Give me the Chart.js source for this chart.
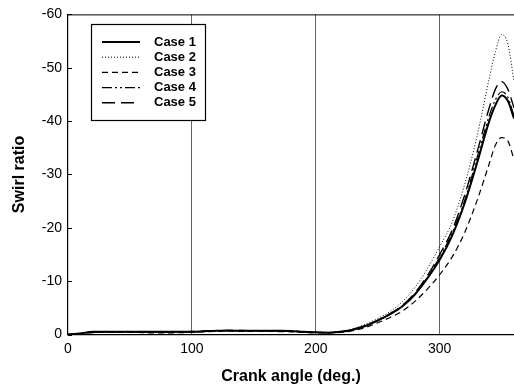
<!DOCTYPE html>
<html><head><meta charset="utf-8">
<script src="https://cdn.jsdelivr.net/npm/chart.js@4/dist/chart.umd.min.js"></script>
<style>html,body{margin:0;padding:0;background:#fff;}#wrap{width:514px;height:389px;}</style>
</head><body><div id="wrap"><canvas id="c" width="514" height="389"></canvas></div>
<script>
const angles = [0,10,20,30,40,50,60,70,80,90,100,110,120,130,140,150,160,170,180,190,200,210,220,230,240,250,260,270,280,290,300,310,320,330,340,345,350,355,360];
const case1 = [0,-0.2,-0.5,-0.5,-0.5,-0.5,-0.5,-0.5,-0.5,-0.5,-0.5,-0.6,-0.7,-0.75,-0.7,-0.7,-0.7,-0.7,-0.65,-0.5,-0.4,-0.35,-0.5,-0.9,-1.6,-2.6,-3.8,-5.3,-7.5,-10.5,-14,-18.5,-24.5,-32,-40,-43,-44.8,-43.8,-40.5];
const case2 = [0,-0.2,-0.4,-0.45,-0.45,-0.45,-0.4,-0.4,-0.35,-0.4,-0.45,-0.55,-0.65,-0.7,-0.7,-0.7,-0.65,-0.65,-0.6,-0.5,-0.4,-0.4,-0.6,-1.1,-1.9,-3,-4.3,-6.2,-8.8,-12.3,-16.5,-21,-28,-37,-48,-53,-56.2,-54.5,-47.5];
const case3 = [0,-0.15,-0.35,-0.4,-0.4,-0.4,-0.35,-0.3,-0.3,-0.35,-0.4,-0.5,-0.6,-0.65,-0.6,-0.6,-0.6,-0.55,-0.5,-0.4,-0.3,-0.3,-0.4,-0.7,-1.3,-2.2,-3.2,-4.4,-6.2,-8.5,-11.2,-14.5,-19,-25,-32,-35.5,-36.9,-36.3,-32.8];
const case4 = [0,-0.2,-0.45,-0.5,-0.5,-0.5,-0.45,-0.45,-0.45,-0.45,-0.5,-0.6,-0.7,-0.7,-0.7,-0.7,-0.7,-0.65,-0.6,-0.5,-0.4,-0.35,-0.5,-0.9,-1.6,-2.6,-3.8,-5.4,-7.6,-10.7,-14.5,-19,-25,-33,-41,-44,-45.5,-44.5,-41];
const case5 = [0,-0.2,-0.45,-0.5,-0.5,-0.5,-0.5,-0.5,-0.5,-0.5,-0.55,-0.65,-0.7,-0.75,-0.75,-0.7,-0.7,-0.7,-0.65,-0.5,-0.4,-0.35,-0.5,-0.95,-1.7,-2.7,-3.9,-5.5,-7.8,-11,-15,-19.5,-26,-34,-42.5,-46,-47.4,-46,-42.5];
const seriesNames = ["Case 1","Case 2","Case 3","Case 4","Case 5"];
const xTicks = [0,100,200,300];
const yTicks = [0,-10,-20,-30,-40,-50,-60];

const styles = [
  {w:2.0, dash:[]},
  {w:1.0, dash:[1,2]},
  {w:1.2, dash:[6,4]},
  {w:1.2, dash:[10,3,2,3,2,3]},
  {w:1.4, dash:[13,6]}
];
const allSeries = [case1,case2,case3,case4,case5];
const datasets = allSeries.map((s,i)=>({
  label: seriesNames[i],
  data: angles.map((a,j)=>({x:a,y:s[j]})),
  borderColor:'#000', borderWidth:styles[i].w, borderDash:styles[i].dash,
  pointRadius:0, fill:false, cubicInterpolationMode:'monotone'
}));

const framePlugin = {
  id:'frame',
  afterDraw(chart){
    const ctx = chart.ctx, a = chart.chartArea;
    const ys = chart.scales.y;
    ctx.save();
    ctx.strokeStyle='#000'; ctx.lineWidth=1; ctx.setLineDash([]);
    ctx.beginPath(); ctx.moveTo(a.left, a.top+0.5); ctx.lineTo(a.right, a.top+0.5); ctx.stroke();
    yTicks.forEach(v=>{
      const p = Math.round(ys.getPixelForValue(v))+0.5;
      ctx.beginPath(); ctx.moveTo(a.left, p); ctx.lineTo(a.left+4, p); ctx.stroke();
    });
    const lx=91, ly=24, lw=114, lh=96;
    ctx.fillStyle='#fff'; ctx.fillRect(lx,ly,lw,lh);
    ctx.lineWidth=1.2; ctx.strokeRect(lx+0.5,ly+0.5,lw,lh);
    ctx.font='bold 13px "Liberation Sans", Arial, sans-serif';
    ctx.textBaseline='middle'; ctx.textAlign='left'; ctx.fillStyle='#000';
    chart.data.datasets.forEach((d,i)=>{
      const y = 42 + i*15.2;
      ctx.lineWidth = d.borderWidth; ctx.setLineDash(d.borderDash);
      ctx.beginPath(); ctx.moveTo(102, y); ctx.lineTo(140, y); ctx.stroke();
      ctx.setLineDash([]);
      ctx.fillText(d.label, 154, y);
    });
    ctx.restore();
  }
};

new Chart(document.getElementById('c'), {
  type:'line',
  data:{datasets},
  options:{
    responsive:false, animation:false, devicePixelRatio:1,
    layout:{padding:{top:14,right:0,left:10,bottom:0}},
    plugins:{legend:{display:false}, tooltip:{enabled:false}},
    scales:{
      x:{type:'linear', min:0, max:360,
        afterBuildTicks(s){ s.ticks = xTicks.map(v=>({value:v})); },
        afterFit(s){ s.height = 54.5; },
        grid:{ color:(c)=> (c.tick && (c.tick.value===0)) ? 'rgba(0,0,0,0)' : '#666', lineWidth:1, drawTicks:false },
        border:{display:true,color:'#000',width:1.2},
        ticks:{ color:'#000', padding:6, maxRotation:0, font:{family:'"Liberation Sans", Arial, sans-serif', size:14}},
        title:{display:true, text:'Crank angle (deg.)', color:'#000', padding:{top:5,bottom:3}, font:{family:'"Liberation Sans", Arial, sans-serif', size:16, weight:'bold'}}
      },
      y:{type:'linear', min:-60, max:0, reverse:true,
        afterBuildTicks(s){ s.ticks = yTicks.map(v=>({value:v})); },
        afterFit(s){ s.width = 58; },
        grid:{display:false, drawTicks:false},
        border:{display:true,color:'#000',width:1.2},
        ticks:{ color:'#000', padding:6, font:{family:'"Liberation Sans", Arial, sans-serif', size:14}},
        title:{display:true, text:'Swirl ratio', color:'#000', padding:{top:0,bottom:0}, font:{family:'"Liberation Sans", Arial, sans-serif', size:16, weight:'bold'}}
      }
    }
  },
  plugins:[framePlugin]
});
</script>
</body></html>
